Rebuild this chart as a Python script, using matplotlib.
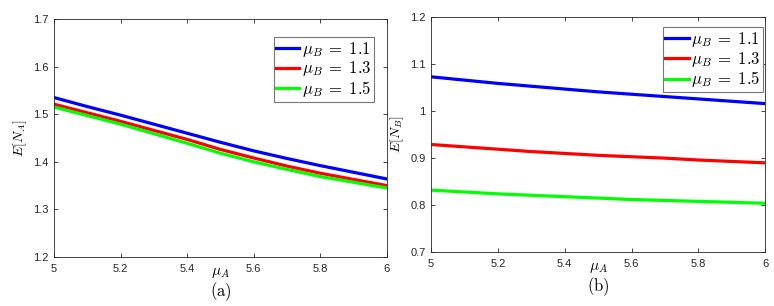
import numpy as np
import matplotlib.pyplot as plt

plt.rcParams['mathtext.fontset'] = 'cm'
plt.rcParams['font.family'] = ['Liberation Sans', 'DejaVu Sans']

mu_A = [5.0, 5.1, 5.2, 5.3, 5.4, 5.5, 5.6, 5.7, 5.8, 5.9, 6.0]
mu_B = [1.1, 1.3, 1.5]

# E[N_A] for each mu_B
EA_11 = [1.535, 1.516, 1.498, 1.479, 1.460, 1.441, 1.423, 1.407, 1.392, 1.378, 1.364]
EA_13 = [1.521, 1.503, 1.485, 1.466, 1.447, 1.426, 1.408, 1.391, 1.376, 1.363, 1.350]
EA_15 = [1.515, 1.497, 1.479, 1.459, 1.439, 1.418, 1.400, 1.384, 1.369, 1.357, 1.345]

# E[N_B] for each mu_B
EB_11 = [1.073, 1.066, 1.059, 1.053, 1.047, 1.041, 1.036, 1.031, 1.026, 1.021, 1.016]
EB_13 = [0.929, 0.924, 0.919, 0.914, 0.910, 0.906, 0.903, 0.900, 0.896, 0.893, 0.890]
EB_15 = [0.832, 0.828, 0.824, 0.821, 0.818, 0.815, 0.812, 0.810, 0.808, 0.806, 0.804]

colors = ['#0000ff', '#ff0000', '#00ff00']
gray = '#262626'

fig = plt.figure(figsize=(7.74, 3.06), dpi=100)
ax1 = fig.add_axes([0.0698, 0.160, 0.430, 0.778])
ax2 = fig.add_axes([0.557, 0.176, 0.4315, 0.768])

def style(ax, ylim, yticks, ylab, tag, legpos):
    ax.set_xlim(5, 6)
    ax.set_ylim(*ylim)
    ax.set_xticks([5, 5.2, 5.4, 5.6, 5.8, 6])
    ax.set_xticklabels(['5', '5.2', '5.4', '5.6', '5.8', '6'])
    ax.set_yticks(yticks)
    ax.set_yticklabels([('%g' % t) for t in yticks])
    ax.tick_params(direction='in', top=True, right=True, length=3, width=0.6,
                   labelsize=8, colors=gray)
    ax.tick_params(axis='x', pad=5)
    ax.tick_params(axis='y', pad=4)
    for s in ax.spines.values():
        s.set_color(gray)
        s.set_linewidth(0.6)
    ax.set_ylabel(ylab, fontsize=10, labelpad=3)
    ax.set_xlabel(r'$\mu_A$', fontsize=11, labelpad=-6)
    ax.text(0.5, -0.146, tag, transform=ax.transAxes, ha='center', va='center',
            fontsize=12)
    leg = ax.legend(loc='upper right', bbox_to_anchor=legpos, fontsize=12,
                    fancybox=False, framealpha=1, edgecolor='#777777',
                    handlelength=1.4, handletextpad=0.15, borderpad=0.15,
                    labelspacing=0.05, borderaxespad=0)
    leg.get_frame().set_linewidth(0.8)

for vals, c, b in zip([EA_11, EA_13, EA_15], colors, mu_B):
    ax1.plot(mu_A, vals, color=c, lw=2.3, label=r'$\mu_B \;=\; %.1f$' % b)
style(ax1, (1.2, 1.7), [1.2, 1.3, 1.4, 1.5, 1.6, 1.7], r'$E[N_A]$',
      r'$\mathrm{(a)}$', (0.961, 0.924))

for vals, c, b in zip([EB_11, EB_13, EB_15], colors, mu_B):
    ax2.plot(mu_A, vals, color=c, lw=2.3, label=r'$\mu_B \;=\; %.1f$' % b)
style(ax2, (0.7, 1.2), [0.7, 0.8, 0.9, 1.0, 1.1, 1.2], r'$E[N_B]$',
      r'$\mathrm{(b)}$', (0.994, 0.957))
ax2.set_yticklabels(['0.7', '0.8', '0.9', '1', '1.1', '1.2'])

fig.savefig('out.png', dpi=100)
